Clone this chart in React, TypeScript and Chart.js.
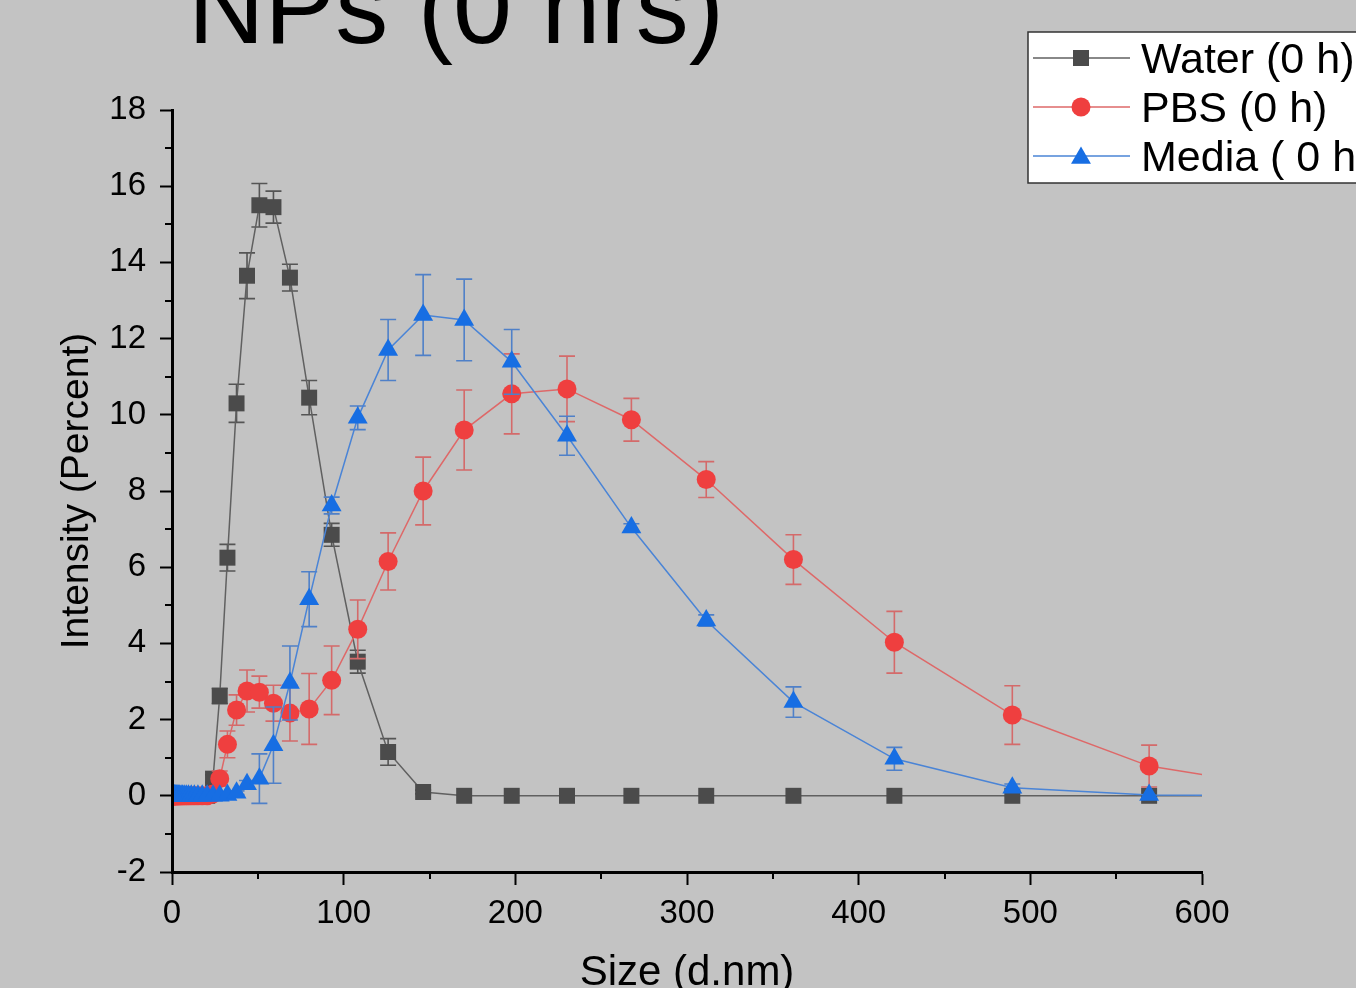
import React, { useEffect, useRef } from 'react';
import { Chart, registerables } from 'chart.js';

Chart.register(...registerables);

// Size bins (d.nm)
const sizes = [
  0.41, 0.48, 0.55, 0.64, 0.75, 0.87, 1.0, 1.2, 1.4, 1.6,
  1.8, 2.1, 2.5, 2.9, 3.4, 3.9, 4.5, 5.3, 6.1, 7.1,
  8.3, 9.6, 11.2, 13.0, 15.1, 17.6, 20.5, 23.9, 27.8, 32.3,
  37.6, 43.7, 50.9, 59.1, 68.7, 79.9, 93.0, 108.2, 125.9, 146.3,
  170.2, 197.9, 230.1, 267.6, 311.2, 362.0, 420.8, 489.5, 569.2, 662.0,
];

const waterValues = [
  0, 0, 0, 0, 0, 0, 0, 0, 0, 0,
  0, 0, 0, 0, 0, 0, 0, 0, 0, 0,
  0, 0, 0, 0, 0, 0, 0, 0.45, 2.62, 6.25,
  10.3, 13.65, 15.5, 15.45, 13.6, 10.45, 6.85, 3.52, 1.15, 0.1,
  0, 0, 0, 0, 0, 0, 0, 0, 0, 0,
];
const waterErrors = [
  0, 0, 0, 0, 0, 0, 0, 0, 0, 0,
  0, 0, 0, 0, 0, 0, 0, 0, 0, 0,
  0, 0, 0, 0, 0, 0, 0, 0.1, 0.2, 0.35,
  0.5, 0.6, 0.57, 0.42, 0.35, 0.45, 0.3, 0.3, 0.35, 0.05,
  0, 0, 0, 0, 0, 0, 0, 0, 0, 0,
];

const pbsValues = [
  0, 0, 0, 0, 0, 0, 0, 0, 0, 0,
  0, 0, 0, 0, 0, 0, 0, 0, 0, 0,
  0, 0, 0, 0, 0, 0, 0, 0.05, 0.45, 1.35,
  2.25, 2.75, 2.72, 2.43, 2.17, 2.28, 3.03, 4.37, 6.15, 8.0,
  9.6, 10.55, 10.68, 9.87, 8.3, 6.2, 4.03, 2.12, 0.78, 0.12,
];
const pbsErrors = [
  0, 0, 0, 0, 0, 0, 0, 0, 0, 0,
  0, 0, 0, 0, 0, 0, 0, 0, 0, 0,
  0, 0, 0, 0, 0, 0, 0, 0.1, 0.2, 0.35,
  0.4, 0.55, 0.42, 0.47, 0.73, 0.93, 0.9, 0.77, 0.75, 0.89,
  1.05, 1.05, 0.86, 0.56, 0.47, 0.65, 0.81, 0.77, 0.55, 0,
];

const mediaValues = [
  0, 0, 0, 0, 0, 0, 0, 0, 0, 0,
  0, 0, 0, 0, 0, 0, 0, 0, 0, 0,
  0, 0, 0, 0, 0, 0, 0, 0, 0, 0.02,
  0.08, 0.3, 0.45, 1.33, 2.96, 5.16, 7.62, 9.92, 11.7, 12.62,
  12.49, 11.39, 9.45, 7.04, 4.6, 2.46, 0.97, 0.21, 0.02, 0,
];
const mediaErrors = [
  0, 0, 0, 0, 0, 0, 0, 0, 0, 0,
  0, 0, 0, 0, 0, 0, 0, 0, 0, 0,
  0, 0, 0, 0, 0, 0, 0, 0, 0, 0,
  0.05, 0.1, 0.65, 1.0, 0.97, 0.72, 0.22, 0.31, 0.8, 1.06,
  1.07, 0.85, 0.51, 0.1, 0.15, 0.4, 0.3, 0.1, 0, 0,
];

const seriesLabels = ['Water (0 h)', 'PBS (0 h)', 'Media ( 0 h)'];
const titleText = 'NPs (0 hrs)';
const xTitle = 'Size (d.nm)';
const yTitle = 'Intensity (Percent)';

const FONT = '"Liberation Sans", Arial, Helvetica, sans-serif';

function drawMarker(ctx: CanvasRenderingContext2D, shape: string, x: number, y: number, r: number, color: string) {
  ctx.save();
  ctx.fillStyle = color;
  ctx.beginPath();
  if (shape === 'rect') {
    const h = Math.SQRT1_2 * r;
    ctx.rect(x - h, y - h, 2 * h, 2 * h);
  } else if (shape === 'circle') {
    ctx.arc(x, y, r, 0, Math.PI * 2);
  } else {
    ctx.moveTo(x, y - r);
    ctx.lineTo(x + r * 0.866, y + r * 0.5);
    ctx.lineTo(x - r * 0.866, y + r * 0.5);
    ctx.closePath();
  }
  ctx.fill();
  ctx.restore();
}

export default function App() {
  const ref = useRef<HTMLCanvasElement>(null);

  useEffect(() => {
    const canvas = ref.current!;
    const toXY = (vals: number[]) => sizes.map((s, i) => ({ x: s, y: vals[i] }));

    const errorBarPlugin = {
      id: 'errorBars',
      beforeDatasetDraw(chart: any, args: any) {
        const ds = chart.data.datasets[args.index];
        const errs: number[] = ds.errors;
        if (!errs) return;
        const xs = chart.scales.x;
        const ys = chart.scales.y;
        const area = chart.chartArea;
        const ctx = chart.ctx;
        ctx.save();
        ctx.beginPath();
        ctx.rect(area.left, area.top, area.right - area.left, area.bottom - area.top);
        ctx.clip();
        ctx.strokeStyle = ds.errorColor;
        ctx.lineWidth = 1.6;
        ds.data.forEach((p: any, i: number) => {
          const e = errs[i];
          if (!e) return;
          const px = xs.getPixelForValue(p.x);
          const yt = ys.getPixelForValue(p.y + e);
          const yb = ys.getPixelForValue(p.y - e);
          ctx.beginPath();
          ctx.moveTo(px, yt);
          ctx.lineTo(px, yb);
          ctx.moveTo(px - 8, yt);
          ctx.lineTo(px + 8, yt);
          ctx.moveTo(px - 8, yb);
          ctx.lineTo(px + 8, yb);
          ctx.stroke();
        });
        ctx.restore();
      },
    };

    const decorPlugin = {
      id: 'decor',
      afterDraw(chart: any) {
        const ctx = chart.ctx as CanvasRenderingContext2D;
        const xs = chart.scales.x;
        const ys = chart.scales.y;
        const area = chart.chartArea;
        ctx.save();
        // minor ticks
        ctx.strokeStyle = '#000';
        ctx.lineWidth = 2;
        for (let v = ys.min + 1; v < ys.max; v += 2) {
          const py = Math.round(ys.getPixelForValue(v));
          ctx.beginPath();
          ctx.moveTo(area.left - 7, py);
          ctx.lineTo(area.left, py);
          ctx.stroke();
        }
        for (let v = xs.min + 50; v < xs.max; v += 100) {
          const px = Math.round(xs.getPixelForValue(v));
          ctx.beginPath();
          ctx.moveTo(px, area.bottom);
          ctx.lineTo(px, area.bottom + 7);
          ctx.stroke();
        }
        // title
        ctx.fillStyle = '#000';
        ctx.textAlign = 'center';
        ctx.textBaseline = 'alphabetic';
        ctx.font = `106px ${FONT}`;
        ctx.fillText(titleText, 456, 43);
        // axis titles
        ctx.font = `42px ${FONT}`;
        ctx.fillText(xTitle, (area.left + area.right) / 2, 985);
        ctx.save();
        ctx.translate(88, (area.top + area.bottom) / 2);
        ctx.rotate(-Math.PI / 2);
        ctx.font = `39px ${FONT}`;
        ctx.fillText(yTitle, 0, 0);
        ctx.restore();
        // legend
        const lx = 1028, ly = 32, lh = 151;
        ctx.fillStyle = '#ffffff';
        ctx.fillRect(lx, ly, 400, lh);
        ctx.strokeStyle = '#333';
        ctx.lineWidth = 1.5;
        ctx.strokeRect(lx, ly, 400, lh);
        chart.data.datasets.forEach((ds: any, i: number) => {
          const cy = 58 + i * 49;
          ctx.strokeStyle = ds.borderColor;
          ctx.lineWidth = 1.5;
          ctx.beginPath();
          ctx.moveTo(1033, cy);
          ctx.lineTo(1130, cy);
          ctx.stroke();
          drawMarker(ctx, ds.pointStyle, 1081, ds.pointStyle === 'triangle' ? cy + 2 : cy, ds.pointRadius, ds.pointBackgroundColor);
          ctx.fillStyle = '#000';
          ctx.textAlign = 'left';
          ctx.font = `43px ${FONT}`;
          ctx.fillText(ds.label, 1141, cy + 15);
        });
        ctx.restore();
      },
    };

    const chart = new Chart(canvas, {
      type: 'line',
      data: {
        datasets: [
          {
            label: seriesLabels[0],
            data: toXY(waterValues),
            borderColor: '#606060',
            borderWidth: 1.5,
            pointStyle: 'rect',
            pointRadius: 11.3,
            pointBackgroundColor: '#4b4b4b',
            pointBorderWidth: 0,
            order: 3,
            clip: 0,
            errors: waterErrors,
            errorColor: '#555555',
          } as any,
          {
            label: seriesLabels[1],
            data: toXY(pbsValues),
            borderColor: '#de6868',
            borderWidth: 1.5,
            pointStyle: 'circle',
            pointRadius: 9.5,
            pointBackgroundColor: '#ef3f3f',
            pointBorderWidth: 0,
            order: 2,
            clip: 0,
            errors: pbsErrors,
            errorColor: '#d46a6a',
          } as any,
          {
            label: seriesLabels[2],
            data: toXY(mediaValues),
            borderColor: '#4a84d6',
            borderWidth: 1.5,
            pointStyle: 'triangle',
            pointRadius: 11.5,
            pointBackgroundColor: '#176ee3',
            pointBorderWidth: 0,
            order: 1,
            clip: 0,
            errors: mediaErrors,
            errorColor: '#4f80c8',
          } as any,
        ],
      },
      options: {
        responsive: false,
        maintainAspectRatio: false,
        devicePixelRatio: 1,
        animation: false,
        events: [],
        layout: { padding: { left: 0, top: 110, right: 154, bottom: 0 } },
        plugins: {
          legend: { display: false },
          title: { display: false },
          tooltip: { enabled: false },
        },
        elements: { line: { tension: 0 } },
        scales: {
          x: {
            type: 'linear',
            min: 0,
            max: 600,
            afterFit(scale: any) { scale.height = 116; },
            ticks: {
              stepSize: 100,
              color: '#000',
              font: { family: FONT, size: 33 },
              padding: 9,
              maxRotation: 0,
            },
            grid: {
              drawOnChartArea: false,
              drawTicks: true,
              tickLength: 13,
              tickWidth: 2,
              tickColor: '#000',
            },
            border: { display: true, color: '#000', width: 3, z: 1 },
          },
          y: {
            type: 'linear',
            min: -2,
            max: 18,
            afterFit(scale: any) { scale.width = 172; },
            ticks: {
              stepSize: 2,
              color: '#000',
              font: { family: FONT, size: 33 },
              padding: 14,
            },
            grid: {
              drawOnChartArea: false,
              drawTicks: true,
              tickLength: 12,
              tickWidth: 2,
              tickColor: '#000',
            },
            border: { display: true, color: '#000', width: 3, z: 1 },
          },
        },
      },
      plugins: [errorBarPlugin, decorPlugin],
    } as any);

    return () => chart.destroy();
  }, []);

  return (
    <div style={{ position: 'fixed', left: 0, top: 0, width: 1356, height: 988, background: '#c3c3c3', overflow: 'hidden' }}>
      <canvas ref={ref} width={1356} height={988} style={{ display: 'block', width: 1356, height: 988 }} />
    </div>
  );
}
